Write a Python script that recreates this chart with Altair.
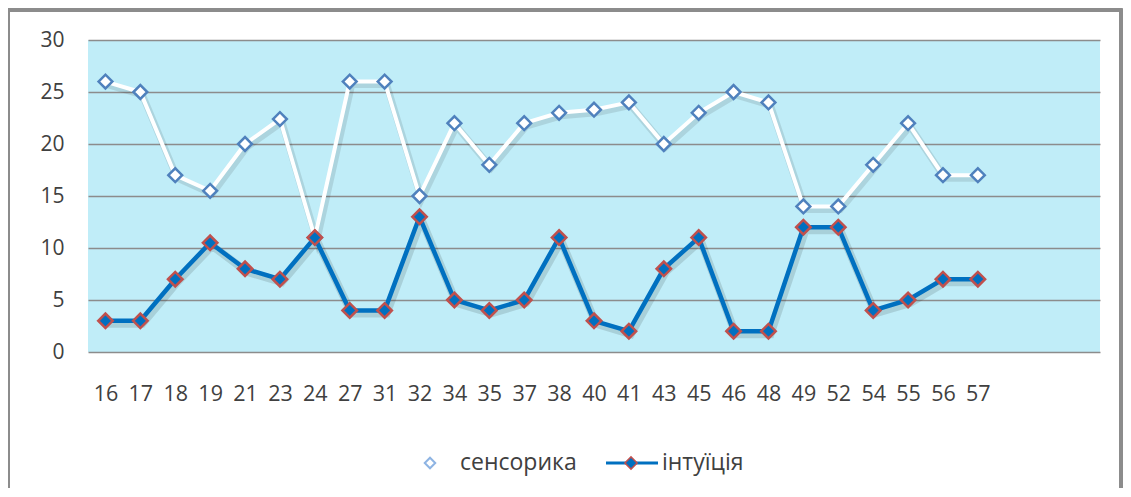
import altair as alt
import pandas as pd

categories = ["16", "17", "18", "19", "21", "23", "24", "27", "31", "32", "34", "35", "37",
              "38", "40", "41", "43", "45", "46", "48", "49", "52", "54", "55", "56", "57"]
sensoryka = [26, 25, 17, 15.5, 20, 22.4, 11, 26, 26, 15, 22, 18, 22,
             23, 23.3, 24, 20, 23, 25, 24, 14, 14, 18, 22, 17, 17]
intuitsiia = [3, 3, 7, 10.5, 8, 7, 11, 4, 4, 13, 5, 4, 5,
              11, 3, 2, 8, 11, 2, 2, 12, 12, 4, 5, 7, 7]
spacers = ["~1", "~2", "~3"]
y_ticks = [0, 5, 10, 15, 20, 25, 30]
series_names = ["сенсорика", "інтуїція"]

df_s = pd.DataFrame({"cat": categories, "value": sensoryka})
df_i = pd.DataFrame({"cat": categories, "value": intuitsiia})

W, H = 1012, 312
FONT = "Open Sans"
TXT = "#404040"

x_enc = alt.X("cat:O", sort=None,
              scale=alt.Scale(type="point", domain=categories + spacers, padding=0.5),
              axis=alt.Axis(title=None, labelAngle=0, ticks=False, domain=False, grid=False,
                            labelPadding=31, labelFontSize=21.5, labelFont=FONT, labelColor=TXT,
                            labelExpr="indexof(datum.label, '~') >= 0 ? '' : datum.label"))
y_enc = alt.Y("value:Q",
              scale=alt.Scale(domain=[0, 30], nice=False, zero=True),
              axis=alt.Axis(title=None, values=y_ticks, ticks=False, domain=False, grid=True,
                            gridColor="#8c8c8c", gridWidth=1.6, gridOpacity=1,
                            labelPadding=24, labelFontSize=21, labelFont=FONT, labelColor=TXT))

frame = alt.Chart(df_s).mark_rect(fill=None, stroke="#8c8c8c", strokeWidth=2.5).encode(
    x=alt.value(-80), x2=alt.value(1033), y=alt.value(-30), y2=alt.value(470))

shadow_s = alt.Chart(df_s).mark_line(color="#000000", opacity=0.10, strokeWidth=7,
                                      xOffset=2, yOffset=3).encode(x=x_enc, y=y_enc)
shadow_i = alt.Chart(df_i).mark_line(color="#000000", opacity=0.12, strokeWidth=8,
                                      xOffset=2, yOffset=3).encode(x=x_enc, y=y_enc)

line_s = alt.Chart(df_s).mark_line(color="#ffffff", strokeWidth=4).encode(x=x_enc, y=y_enc)
line_i = alt.Chart(df_i).mark_line(color="#0070C0", strokeWidth=4.5).encode(x=x_enc, y=y_enc)

pts_s = alt.Chart(df_s).mark_point(shape="diamond", size=190, filled=True, fill="#ffffff",
                                   stroke="#4F81BD", strokeWidth=2.5, opacity=1).encode(x=x_enc, y=y_enc)
pts_i = alt.Chart(df_i).mark_point(shape="diamond", size=210, filled=True, fill="#0070C0",
                                   stroke="#C0504D", strokeWidth=2.5, opacity=1).encode(x=x_enc, y=y_enc)

LY = 423
leg_pt_s = alt.Chart(df_s.head(1)).mark_point(shape="diamond", size=110, filled=True, fill="#ffffff",
                                              stroke="#8EB4E3", strokeWidth=2, opacity=1).encode(
    x=alt.value(342), y=alt.value(LY))
leg_txt_s = alt.Chart(df_s.head(1)).mark_text(text=series_names[0], align="left", baseline="middle",
                                              font=FONT, fontSize=23, color=TXT).encode(
    x=alt.value(372), y=alt.value(LY))
leg_line_i = alt.Chart(df_i.head(1)).mark_rule(color="#0070C0", strokeWidth=3).encode(
    x=alt.value(518), x2=alt.value(570), y=alt.value(LY))
leg_pt_i = alt.Chart(df_i.head(1)).mark_point(shape="diamond", size=150, filled=True, fill="#0070C0",
                                              stroke="#C0504D", strokeWidth=1.5, opacity=1).encode(
    x=alt.value(543), y=alt.value(LY))
leg_txt_i = alt.Chart(df_i.head(1)).mark_text(text=series_names[1], align="left", baseline="middle",
                                              font=FONT, fontSize=23, color=TXT).encode(
    x=alt.value(574), y=alt.value(LY))

chart = alt.layer(frame, shadow_s, shadow_i, line_s, line_i, pts_s, pts_i,
                  leg_pt_s, leg_txt_s, leg_line_i, leg_pt_i, leg_txt_i).properties(
    width=W, height=H,
    autosize=alt.AutoSizeParams(type="none"),
    padding={"left": 80, "top": 32, "right": 23, "bottom": 136},
    background="#ffffff",
).configure_view(fill="#C0EDF8", stroke=None)

chart.save("out.html", embed_options={"renderer": "svg", "actions": False})
